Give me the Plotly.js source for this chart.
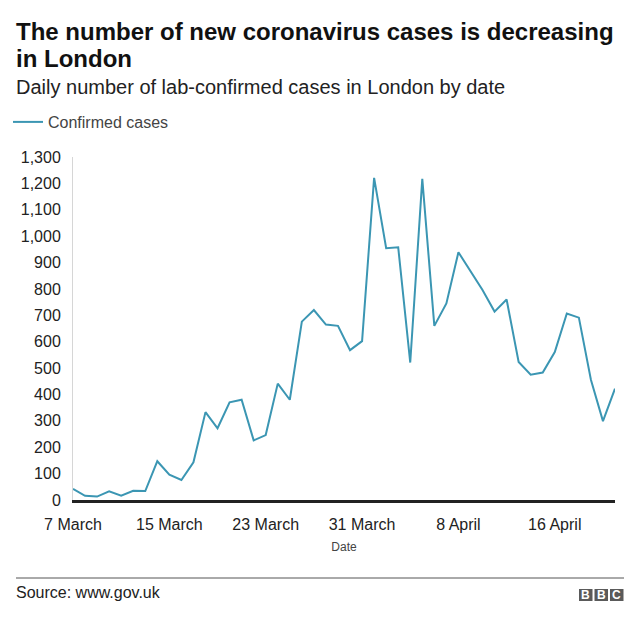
<!DOCTYPE html>
<html>
<head>
<meta charset="utf-8">
<script src="https://cdn.plot.ly/plotly-3.0.1.min.js"></script>
<style>
html,body{margin:0;padding:0;background:#fff;}
#chart{width:640px;height:622px;}
</style>
</head>
<body>
<div id="chart"></div>
<script>
const dates = ['2020-03-07','2020-03-08','2020-03-09','2020-03-10','2020-03-11','2020-03-12','2020-03-13','2020-03-14','2020-03-15','2020-03-16','2020-03-17','2020-03-18','2020-03-19','2020-03-20','2020-03-21','2020-03-22','2020-03-23','2020-03-24','2020-03-25','2020-03-26','2020-03-27','2020-03-28','2020-03-29','2020-03-30','2020-03-31','2020-04-01','2020-04-02','2020-04-03','2020-04-04','2020-04-05','2020-04-06','2020-04-07','2020-04-08','2020-04-09','2020-04-10','2020-04-11','2020-04-12','2020-04-13','2020-04-14','2020-04-15','2020-04-16','2020-04-17','2020-04-18','2020-04-19','2020-04-20','2020-04-21'];
const confirmedCases = [42,16,13,33,16,35,34,147,96,76,143,333,272,370,380,226,246,441,380,676,720,665,660,568,602,1221,954,958,521,1217,660,745,939,866,796,714,760,523,475,483,561,707,691,456,299,422];
const xTickVals = ['2020-03-07','2020-03-15','2020-03-23','2020-03-31','2020-04-08','2020-04-16'];
const xTickText = ['7 March','15 March','23 March','31 March','8 April','16 April'];
const yTickVals = [0,100,200,300,400,500,600,700,800,900,1000,1100,1200,1300];

const FONT = 'Liberation Sans, Arial, Helvetica, sans-serif';
// plot area: x 73..615, y 157..500
const L = 73, R = 25, T = 157, B = 122, W = 640, H = 622;
const PW = W - L - R, PH = H - T - B;
const px = x => (x - L) / PW;
const py = y => (H - B - y) / PH;

const trace = {
  x: dates, y: confirmedCases, type: 'scatter', mode: 'lines',
  name: 'Confirmed cases',
  line: {color: '#3b96b3', width: 2},
  hoverinfo: 'x+y'
};

const layout = {
  width: W, height: H,
  margin: {l: L, r: R, t: T, b: B, autoexpand: false},
  paper_bgcolor: '#fff', plot_bgcolor: '#fff',
  font: {family: FONT, color: '#222'},
  showlegend: true,
  legend: {
    x: px(8), y: py(122), xanchor: 'left', yanchor: 'middle',
    orientation: 'h', font: {size: 16, color: '#444', family: FONT},
    itemwidth: 30, bgcolor: 'rgba(0,0,0,0)'
  },
  xaxis: {
    type: 'date',
    range: ['2020-03-07', '2020-04-21'],
    tickvals: xTickVals, ticktext: xTickText,
    showgrid: false, zeroline: false,
    showline: true, linecolor: '#222', linewidth: 3,
    ticks: '', ticklabelstandoff: 8,
    tickfont: {size: 16, color: '#222', family: FONT},
    title: {text: 'Date', font: {size: 12, color: '#444', family: FONT}, standoff: 11},
    fixedrange: true
  },
  yaxis: {
    range: [0, 1300],
    tickvals: yTickVals, tickformat: ',',
    showgrid: false, zeroline: false,
    showline: true, linecolor: '#d6d6d6', linewidth: 1,
    ticks: '', ticklabelstandoff: 8,
    tickfont: {size: 16, color: '#222', family: FONT},
    fixedrange: true
  },
  shapes: [
    {type: 'line', xref: 'paper', yref: 'paper', x0: px(16), x1: px(624), y0: py(578), y1: py(578), line: {color: '#555', width: 1}},
    {type: 'rect', xref: 'paper', yref: 'paper', x0: px(579), x1: px(592.5), y0: py(601), y1: py(589), fillcolor: '#5a5a5a', line: {width: 0}},
    {type: 'rect', xref: 'paper', yref: 'paper', x0: px(594.5), x1: px(608), y0: py(601), y1: py(589), fillcolor: '#5a5a5a', line: {width: 0}},
    {type: 'rect', xref: 'paper', yref: 'paper', x0: px(610), x1: px(623.5), y0: py(601), y1: py(589), fillcolor: '#5a5a5a', line: {width: 0}}
  ],
  annotations: [
    {text: '<b>The number of new coronavirus cases is decreasing</b>', xref: 'paper', yref: 'paper', x: px(14), y: py(31), xanchor: 'left', yanchor: 'middle', showarrow: false, font: {size: 24, color: '#111', family: FONT}},
    {text: '<b>in London</b>', xref: 'paper', yref: 'paper', x: px(14), y: py(59), xanchor: 'left', yanchor: 'middle', showarrow: false, font: {size: 24, color: '#111', family: FONT}},
    {text: 'Daily number of lab-confirmed cases in London by date', xref: 'paper', yref: 'paper', x: px(14), y: py(87), xanchor: 'left', yanchor: 'middle', showarrow: false, font: {size: 20, color: '#222', family: FONT}},
    {text: 'Source: www.gov.uk', xref: 'paper', yref: 'paper', x: px(14), y: py(592), xanchor: 'left', yanchor: 'middle', showarrow: false, font: {size: 16, color: '#222', family: FONT}},
    {text: '<b>B</b>', xref: 'paper', yref: 'paper', x: px(585.75), y: py(595), xanchor: 'center', yanchor: 'middle', showarrow: false, font: {size: 12, color: '#fff', family: FONT}},
    {text: '<b>B</b>', xref: 'paper', yref: 'paper', x: px(601.25), y: py(595), xanchor: 'center', yanchor: 'middle', showarrow: false, font: {size: 12, color: '#fff', family: FONT}},
    {text: '<b>C</b>', xref: 'paper', yref: 'paper', x: px(616.75), y: py(595), xanchor: 'center', yanchor: 'middle', showarrow: false, font: {size: 12, color: '#fff', family: FONT}}
  ]
};

Plotly.newPlot('chart', [trace], layout, {displayModeBar: false, staticPlot: true});
</script>
</body>
</html>
